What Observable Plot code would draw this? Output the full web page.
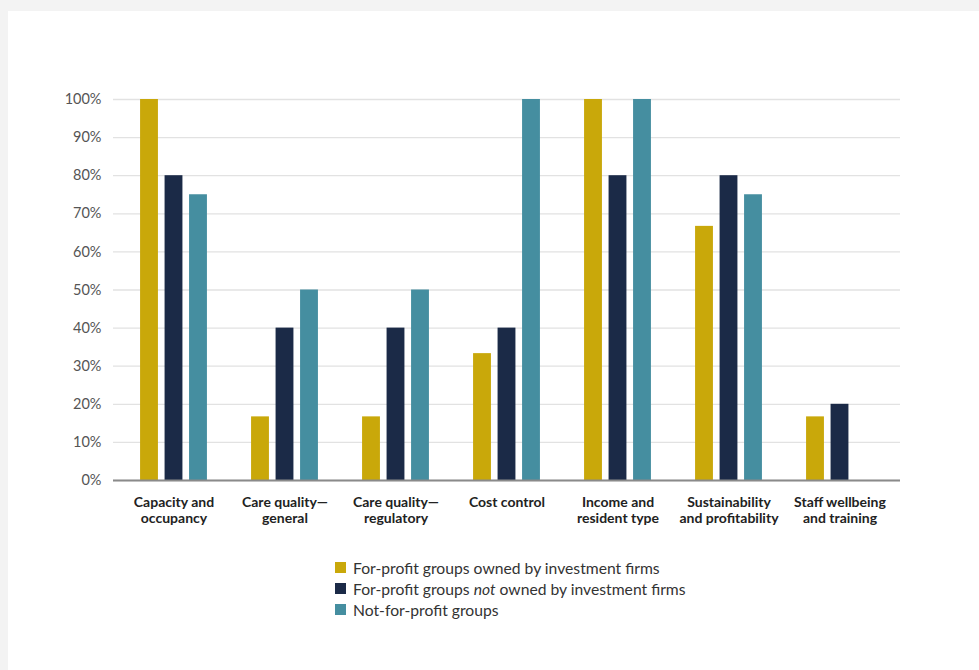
<!DOCTYPE html>
<html><head><meta charset="utf-8">
<script src="https://cdn.jsdelivr.net/npm/d3@7"></script>
<script src="https://cdn.jsdelivr.net/npm/@observablehq/plot@0.6"></script>
<style>
body{margin:0;background:#f3f3f3;font-family:Lato,"Open Sans",sans-serif;}
#panel{position:absolute;left:8px;top:11px;width:971px;height:659px;background:#fff;}
#chart{position:absolute;left:0;top:0;}
#legend{position:absolute;left:327px;top:546px;font-size:15.7px;color:#333;}
.row{display:flex;align-items:center;height:21px;}
.sw{width:11px;height:11px;margin-right:7px;}
</style></head>
<body>
<div id="panel"><div id="chart"></div><div id="legend"></div></div>
<script>
const categories = ["Capacity and\noccupancy","Care quality—\ngeneral","Care quality—\nregulatory","Cost control","Income and\nresident type","Sustainability\nand profitability","Staff wellbeing\nand training"];
const groups = ["For-profit groups owned by investment firms","For-profit groups not owned by investment firms","Not-for-profit groups"];
const colors = ["#c9a80a","#1b2a47","#458ea0"];
const forProfitInvestment = [100, 16.7, 16.7, 33.3, 100, 66.7, 16.7];
const forProfitOther = [80, 40, 40, 40, 80, 80, 20];
const notForProfit = [75, 50, 50, 100, 100, 75, 0];
const yTicks = [0,10,20,30,40,50,60,70,80,90,100];

const series = [forProfitInvestment, forProfitOther, notForProfit];

const barWidth = 18, barStep = 24.5, band = (979 - 8 - 105 - 79 - 9) / categories.length;
const inset = (band - barWidth) / 2;

const plot = Plot.plot({
  width: 971, height: 540,
  marginLeft: 105, marginRight: 79, marginTop: 88, marginBottom: 71,
  style: {fontFamily: "Lato, sans-serif", background: "transparent"},
  x: {domain: categories, padding: 0, insetLeft: 4, insetRight: 5, label: null},
  y: {domain: [0,100], label: null},
  marks: [
    Plot.gridY(yTicks, {stroke: "#e2e2e2", strokeOpacity: 1, strokeWidth: 1.3}),
    ...series.map((s, j) => Plot.barY(categories.map((c, i) => ({category: c, value: s[i]})), {
      x: "category", y: "value", fill: colors[j],
      insetLeft: inset, insetRight: inset, dx: (j - 1) * barStep
    })),
    Plot.ruleY([0], {stroke: "#8a8a8a", strokeWidth: 2}),
    Plot.axisY({ticks: yTicks, tickFormat: d => d + "%", tickSize: 0, tickPadding: 12, fontSize: 14.5, fill: "#555", label: null}),
    Plot.axisX({tickSize: 0, tickPadding: 15, fontSize: 14, fontWeight: "bold", fill: "#222", lineHeight: 1.15, label: null})
  ]
});
document.getElementById("chart").appendChild(plot);

const legend = document.getElementById("legend");
groups.forEach((g,i)=>{
  const row = document.createElement("div"); row.className = "row";
  const sw = document.createElement("div"); sw.className = "sw"; sw.style.background = colors[i];
  const t = document.createElement("span");
  t.innerHTML = g.replace(" not ", " <i>not</i> ");
  row.appendChild(sw); row.appendChild(t); legend.appendChild(row);
});
</script>
</body></html>
